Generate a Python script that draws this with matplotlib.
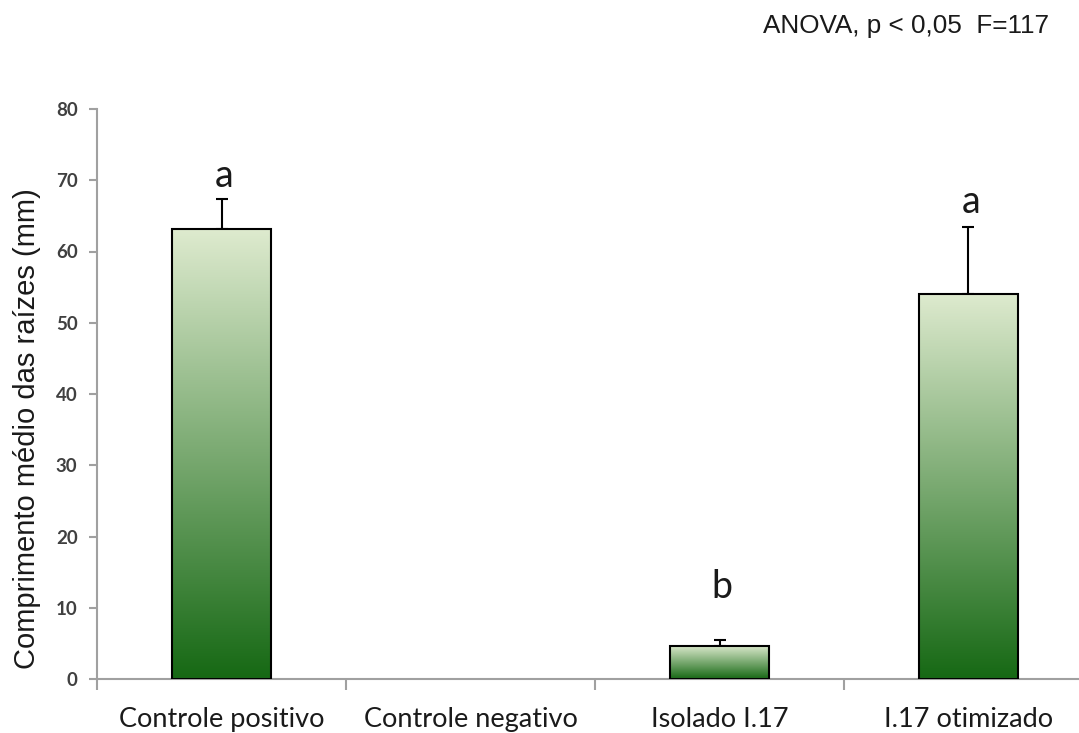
import matplotlib
matplotlib.use("Agg")
import matplotlib.pyplot as plt
import numpy as np
from matplotlib.colors import LinearSegmentedColormap

categories = ["Controle positivo", "Controle negativo", "Isolado I.17", "I.17 otimizado"]
means = [63.1, 0.0, 4.7, 54.1]
errors = [4.2, 0.0, 0.8, 9.3]
letters = ["a", "", "b", "a"]
letter_y = [69.0, None, 11.4, 65.4]
yticks = [0, 10, 20, 30, 40, 50, 60, 70, 80]

W, H = 1079, 733
fig = plt.figure(figsize=(W / 100, H / 100), dpi=100)
left, right = 97 / W, 1.0
bottom, top = (H - 679) / H, (H - 109) / H
ax = fig.add_axes([left, bottom, right - left, top - bottom])

x = np.arange(len(categories))
width = 0.4
cmap = LinearSegmentedColormap.from_list("g", [(0.086, 0.41, 0.078), (0.87, 0.92, 0.81)])
grad = np.linspace(0, 1, 256).reshape(-1, 1)

m_arr = np.array(means)
e_arr = np.array(errors)
sel = e_arr > 0
ax.errorbar(x[sel], m_arr[sel], yerr=[np.zeros(sel.sum()), e_arr[sel]], fmt="none",
            ecolor="black", elinewidth=1.5, capsize=4.5, capthick=1.5, zorder=1)
bars = ax.bar(x, means, width=width, facecolor="none", edgecolor="black", linewidth=1.5, zorder=3)
for b, m in zip(bars, means):
    if m <= 0:
        b.set_linewidth(0)
        continue
    x0 = b.get_x()
    im = ax.imshow(grad, cmap=cmap, aspect="auto", origin="lower",
                   extent=[x0, x0 + b.get_width(), 0, m], zorder=2)
    im.set_clip_path(b)

for xi, lt, ly in zip(x, letters, letter_y):
    if lt:
        ax.text(xi + 0.01, ly, lt, ha="center", va="baseline", fontsize=27,
                family="Lato", color="#1a1a1a")

ax.set_yticks(yticks)
ax.set_yticklabels([str(t) for t in yticks], fontsize=13.5, family="Lato",
                   fontweight="bold", color="#404040")
ax.set_xticks(x)
ax.set_xticklabels(categories, fontsize=19.5, family="Lato", color="#1a1a1a")
ax.tick_params(axis="x", length=0, pad=20)
ax.set_xticks(np.arange(-0.5, 3.0, 1.0), minor=True)
ax.tick_params(axis="x", which="minor", length=8, width=1.5, color="#a0a0a0")
ax.tick_params(axis="y", length=6, width=1.5, color="#a0a0a0", pad=8)
ax.set_xlim(-0.5, -0.5 + (W - 97) / 249)
ax.set_ylim(0, 80)

for s in ["top", "right"]:
    ax.spines[s].set_visible(False)
for s in ["left", "bottom"]:
    ax.spines[s].set_color("#a0a0a0")
    ax.spines[s].set_linewidth(1.5)

ax.set_ylabel("Comprimento médio das raízes (mm)", fontsize=21, family="Liberation Sans",
              color="#1a1a1a")
ax.yaxis.set_label_coords(-0.057, 0.44)

fig.text(763 / W, 1 - 33 / H, "ANOVA, p < 0,05  F=117", fontsize=18.8,
         family="Liberation Sans", color="#1a1a1a", va="baseline", ha="left")

fig.savefig("out.png", dpi=100)
